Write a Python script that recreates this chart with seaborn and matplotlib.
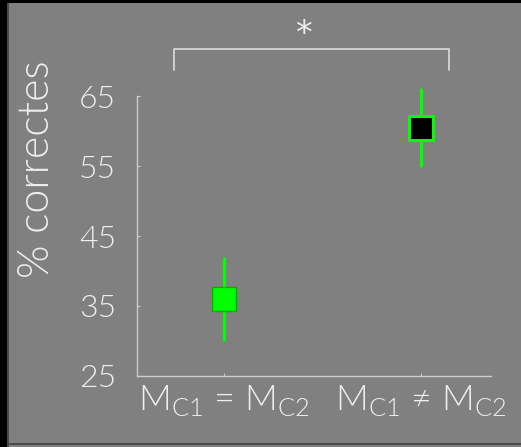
import numpy as np
import pandas as pd
import matplotlib
matplotlib.use("Agg")
import matplotlib.pyplot as plt
from matplotlib.patches import Rectangle
import seaborn as sns

# Values
conditions = ["M$_{\\rm C1}$ = M$_{\\rm C2}$", "M$_{\\rm C1}$ \u2260 M$_{\\rm C2}$"]
means = [36.0, 60.5]
errors = [6.0, 5.6]
face_colors = ["#00ff00", "#000000"]
edge_colors = ["#00b000", "#00ff00"]
y_ticks = [25, 35, 45, 55, 65]

BG = "#808080"
FG = "#eeeeee"
GREEN = "#00ff00"
WEIGHT = 300

sns.set_theme(style="white")
plt.rcParams["font.family"] = ["Lato", "DejaVu Sans"]
plt.rcParams["font.weight"] = WEIGHT
plt.rcParams["mathtext.fontset"] = "custom"
plt.rcParams["mathtext.rm"] = "Lato:weight=300"

data = pd.DataFrame({"Condition": [0, 1], "Mean": means, "Err": errors})

W, H = 521, 447
fig = plt.figure(figsize=(W / 100, H / 100), dpi=100, facecolor=BG)
# slide frame: black band on the left and top, dark rule at the bottom
fig.patches.append(Rectangle((0, 0), 7 / W, 1, transform=fig.transFigure,
                             facecolor="black", edgecolor="none", zorder=0))
fig.patches.append(Rectangle((0, 1 - 3 / H), 1, 3 / H, transform=fig.transFigure,
                             facecolor="black", edgecolor="none", zorder=0))
fig.patches.append(Rectangle((7 / W, 0), 2 / W, 1 - 3 / H, transform=fig.transFigure,
                             facecolor="#4a4a4a", edgecolor="none", zorder=0))
fig.patches.append(Rectangle((7 / W, 2 / H), 1, 2 / H, transform=fig.transFigure,
                             facecolor="#4a4a4a", edgecolor="none", zorder=0))

ax = fig.add_axes([0.263, 0.159, 0.679, 0.626])
ax.set_facecolor(BG)

# error bars first, squares on top
ax.vlines(data["Condition"], data["Mean"] - data["Err"], data["Mean"] + data["Err"],
          color=GREEN, linewidth=2.2, zorder=2, clip_on=False)
for i, row in data.iterrows():
    sns.scatterplot(x=[row["Condition"]], y=[row["Mean"]], marker="s", s=290,
                    color=face_colors[i], edgecolor=edge_colors[i],
                    linewidth=1 if i == 0 else 2.2, zorder=3, ax=ax, legend=False,
                    clip_on=False)

ax.set_xlim(-0.44, 1.355)
ax.set_ylim(25, 65)
ax.set_xticks([0, 1])
ax.set_xticklabels(conditions, fontsize=26, color=FG, fontweight=WEIGHT)
ax.set_yticks(y_ticks)
ax.set_yticklabels([str(t) for t in y_ticks], fontsize=23, color=FG, fontweight=WEIGHT)
ax.tick_params(axis="both", direction="in", length=2, width=0.8, color="#cccccc",
               left=True, bottom=True)
ax.tick_params(axis="y", pad=15)
ax.tick_params(axis="x", pad=5)

for side in ["top", "right"]:
    ax.spines[side].set_visible(False)
for side in ["left", "bottom"]:
    ax.spines[side].set_color("#cccccc")
    ax.spines[side].set_linewidth(1)

ax.set_xlabel("")
ax.set_ylabel("% correctes", fontsize=31, color=FG, fontweight=WEIGHT)
ax.yaxis.set_label_coords(-0.225, 0.74)

# significance bracket
ax.plot([-0.254, -0.254, 1.142, 1.142], [68.7, 71.7, 71.7, 68.7],
        color="#dddddd", linewidth=1.2, clip_on=False)
ax.text(0.405, 72.4, "*", fontsize=24, color=FG, ha="center", va="baseline",
        family="DejaVu Sans")

plt.savefig("out.png", dpi=100, facecolor=BG)
